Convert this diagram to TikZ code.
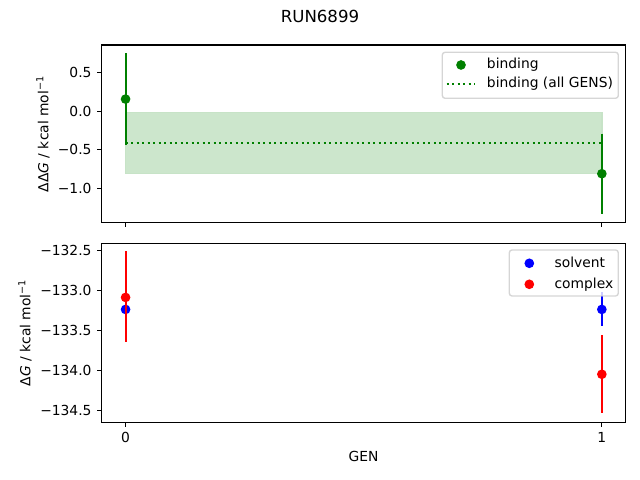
\documentclass[tikz,border=0pt]{standalone}
\usepackage{fontspec}
\setmainfont{DejaVu Sans}
\usepackage{xcolor}
\definecolor{mplgreen}{HTML}{008000}
\definecolor{mplblue}{HTML}{0000FF}
\definecolor{mplred}{HTML}{FF0000}
\definecolor{bandgreen}{HTML}{CCE6CC}
\definecolor{legedge}{HTML}{CCCCCC}
\begin{document}
\begin{tikzpicture}[x=0.01in, y=0.01in, font=\fontsize{10}{12}\selectfont,
    spine/.style={line width=0.8pt, black},
    tick/.style={line width=0.8pt, black},
    errbar/.style={line width=1.5pt},
    dot/.style={circle, fill=#1, inner sep=0pt, minimum size=7pt},
    ticklab/.style={inner sep=0pt},
    legtext/.style={anchor=mid west, inner sep=0pt},
    legbox/.style={draw=legedge, fill=white, fill opacity=0.8, draw opacity=0.8, line width=1pt, rounded corners=2pt}]
    \useasboundingbox (0,0) rectangle (640,480);
    \node[font=\fontsize{12}{14}\selectfont] (title) at (320,464) {RUN6899};
    % binding panel
    \begin{scope}[shift={(1.255in,3.687in)}, x=4.76in, y=0.773in]
    \def\bindMean{-0.414}
	\filldraw[fill=bandgreen, draw=mplgreen!22, line width=1pt] (0,-0.807) rectangle (1,-0.022);
	\draw[mplgreen, errbar, dash pattern=on 1.5pt off 2.475pt] (0,\bindMean) -- (1,\bindMean);
	\draw[mplgreen, errbar] (0,0.745) -- (0,-0.435);
	\draw[mplgreen, errbar] (1,-0.29) -- (1,-1.33);
	\node[dot=mplgreen] (bindA) at (0,0.155) {};
	\node[dot=mplgreen] (bindB) at (1,-0.81) {};
	\draw[spine] (-0.05,-1.441) rectangle (1.05,0.854);
	\foreach \t/\l [count=\i] in {0.5/0.5, 0/0.0, -0.5/−0.5, -1/−1.0}
	    \draw[tick] (-0.05,\t) -- ++(-3.5pt,0) node[left=3.5pt, ticklab] (tt\i) {\l};
	\foreach \t in {0,1}
	    \draw[tick] (\t,-1.441) -- ++(0,-3.5pt);
    \end{scope}
    % solvent / complex panel
    \begin{scope}[shift={(1.255in,108.293in)}, x=4.76in, y=0.8in]
	\draw[mplblue, errbar] (0,-133.04) -- (0,-133.44);
	\draw[mplblue, errbar] (1,-133.02) -- (1,-133.44);
	\node[dot=mplblue] (solvA) at (0,-133.235) {};
	\node[dot=mplblue] (solvB) at (1,-133.235) {};
	\draw[mplred, errbar] (0,-132.51) -- (0,-133.645);
	\draw[mplred, errbar] (1,-133.555) -- (1,-134.535);
	\node[dot=mplred] (compA) at (0,-133.085) {};
	\node[dot=mplred] (compB) at (1,-134.045) {};
	\draw[spine] (-0.05,-134.645) rectangle (1.05,-132.408);
	\foreach \t/\l [count=\i] in {-132.5/−132.5, -133/−133.0, -133.5/−133.5, -134/−134.0, -134.5/−134.5}
	    \draw[tick] (-0.05,\t) -- ++(-3.5pt,0) node[left=3.5pt, ticklab] (bt\i) {\l};
	\foreach \t in {0,1}
	    \draw[tick] (\t,-134.645) -- ++(0,-3.5pt) node[below=3.5pt, ticklab] (xt\t) {\t};
    \end{scope}
    \node[rotate=90] (ylabTop) at (43,346) {ΔΔ\textit{G} / kcal mol\textsuperscript{−1}};
    \node[rotate=90] (ylabBot) at (25,147.2) {Δ\textit{G} / kcal mol\textsuperscript{−1}};
    \node (xlab) at (363.5,23.3) {GEN};
    % legends
    \path[legbox] (442.3,381.7) rectangle (618.3,427.7);
    \node[dot=mplgreen] (legBind) at (461,415) {};
    \node[legtext] (legBindT) at (486.7,415) {binding};
    \coordinate (legMeanA) at (446.7,396);
    \coordinate (legMeanB) at (475,396);
    \draw[mplgreen, errbar, dash pattern=on 1.5pt off 2.475pt] (legMeanA) -- (legMeanB);
    \node[legtext] (legMeanT) at (486.7,396) {binding (all GENS)};
    \path[legbox] (509.3,184) rectangle (618.3,230);
    \node[dot=mplblue] (legSolv) at (529.3,216.7) {};
    \node[legtext] (legSolvT) at (554.3,216.7) {solvent};
    \node[dot=mplred] (legComp) at (529.3,195.7) {};
    \node[legtext] (legCompT) at (554.3,195.7) {complex};
\end{tikzpicture}
\end{document}
